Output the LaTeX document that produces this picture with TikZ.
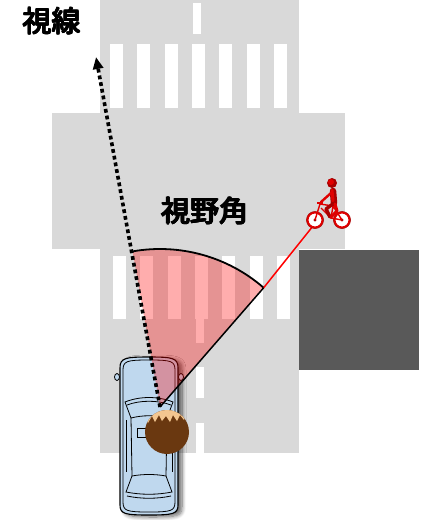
\documentclass[tikz,border=0pt]{standalone}
\usepackage{fontspec}
\newfontfamily\jp{Noto Sans CJK JP}
\usetikzlibrary{arrows.meta,calc,shadows.blur}
\definecolor{road}{HTML}{D9D9D9}
\definecolor{block}{HTML}{595959}
\definecolor{carblue}{HTML}{BFD8EE}
\definecolor{hair}{HTML}{6A3810}
\definecolor{skin}{HTML}{F3C690}
\definecolor{bikered}{HTML}{E00000}
\definecolor{darkred}{HTML}{A80000}
\tikzset{
  stripe/.style={fill=white},
  label/.style={inner sep=0pt, font=\jp\fontsize{29}{29}\selectfont},
  carline/.style={draw=black, line width=0.8pt},
  wheel/.style={draw=bikered, line width=2pt, fill=white},
  sight/.style={line width=3.6pt, dash pattern=on 3.8pt off 3pt, -{Triangle[length=12pt,width=10pt]}},
}
% heavy label: the text set several times with small offsets
\newcommand\heavylabel[3]{%
  \foreach \dx/\dy in {-0.55/0,0.55/0,0/-0.55,0/0.55,-0.4/-0.4,0.4/0.4,-0.4/0.4,0.4/-0.4}
    {\node[label] at ($(#2)+(\dx,\dy)$) {#3};}
  \node[label] (#1) at (#2) {#3};}
\begin{document}
\begin{tikzpicture}[x=1pt,y=-1pt]
\useasboundingbox (0,0) rectangle (437,520);
% road surface
\fill[road] (100,0) rectangle (299,114);
\fill[road] (52,113) rectangle (345,249);
\fill[road] (100,248) rectangle (299,453);
% building block
\fill[block] (299,250) rectangle (419,370);
% crosswalks
\foreach \i in {0,...,6} {
  \fill[stripe] ({110+27.3*\i},44) rectangle ++(13,64);
  \fill[stripe] ({113+27.3*\i},256) rectangle ++(13,63);
}
% centre line
\fill[stripe] (193,3) rectangle (201,34);
\fill[stripe] (196,319) rectangle (204,343);
\fill[stripe] (196,367) rectangle (204,398);
\fill[stripe] (196,423) rectangle (204,453);

% view apex and sector geometry
\coordinate (eye) at (160,407);
\coordinate (fovL) at ($(eye)+(-100:158)$);
\coordinate (fovR) at ($(eye)+(-49:158)$);

% car seen from above
\begin{scope}
  \path[fill=carblue, blur shadow={shadow xshift=4pt, shadow yshift=-2pt, shadow blur steps=8, shadow blur radius=4pt, shadow opacity=60}]
    (120,368) .. controls (120,358) and (125,357) .. (149,357) .. controls (173,357) and (178,358) .. (178,368)
    -- (178,505) .. controls (178,514) and (173,515) .. (149,515) .. controls (125,515) and (120,514) .. (120,505) -- cycle;
  \draw[carline, line width=1.1pt]
    (120,368) .. controls (120,358) and (125,357) .. (149,357) .. controls (173,357) and (178,358) .. (178,368)
    -- (178,505) .. controls (178,514) and (173,515) .. (149,515) .. controls (125,515) and (120,514) .. (120,505) -- cycle;
  \draw[carline]
    (123,370) .. controls (123,361) and (127,360) .. (149,360) .. controls (171,360) and (175,361) .. (175,370)
    -- (175,502) .. controls (175,511) and (171,512) .. (149,512) .. controls (127,512) and (123,511) .. (123,502) -- cycle;
  % mirrors
  \draw[carline, fill=carblue] (117,377) ellipse (2.5 and 3.5);
  \draw[carline, fill=carblue] (181,377) ellipse (2.5 and 3.5);
  % windscreen
  \draw[carline] (125,402) .. controls (140,396) and (158,396) .. (173,402)
    -- (167,418) .. controls (155,415) and (143,415) .. (131,418) -- cycle;
  \draw[carline] (127,405) .. controls (140,400) and (158,400) .. (171,405);
  % roof and side glass
  \draw[carline] (131,418) -- (132,476);
  \draw[carline] (167,418) -- (166,476);
  \draw[carline] (126,420) -- (126,472);
  \draw[carline] (172,420) -- (172,472);
  % rear window
  \draw[carline] (132,476) .. controls (143,474) and (155,474) .. (166,476)
    -- (172,492) .. controls (157,495) and (141,495) .. (126,492) -- cycle;
  \draw[carline] (127,496) .. controls (141,499) and (157,499) .. (171,496);
  % door handle
  \draw[carline, fill=carblue] (137,428) rectangle (146,437);
\end{scope}

% field of view
\fill[red, opacity=0.32] (eye) -- (fovL) arc[start angle=-100, end angle=-49, radius=158] -- cycle;
\draw[line width=1.8pt] (fovL) arc[start angle=-100, end angle=-49, radius=158];
\draw[red, line width=1.5pt] (fovR) -- (313,226);
\draw[line width=1.5pt] (eye) -- (fovR);

% line of sight
\coordinate (tip) at (96,57);
\draw[sight] (eye) -- (tip);

% driver's head
\begin{scope}
  \fill[hair] (167,432) circle (22);
  \clip (167,432) circle (22);
  \fill[skin] (140,400) -- (190,400) -- (190,416)
    -- (186,414) -- (184,420) -- (180,415) -- (177,421) -- (173,415) -- (170,422) -- (166,416)
    -- (162,421) -- (159,415) -- (155,422) -- (152,416) -- (148,423) -- (145,418) -- (140,424) -- cycle;
\end{scope}

% cyclist
\begin{scope}
  \draw[wheel] (315,220) circle (7.5);
  \draw[wheel] (342,220) circle (7.5);
  \draw[darkred, line width=0.5pt] (315,220) circle (8.6) (342,220) circle (8.6);
  \fill[darkred] (315,220) circle (1.6);
  \fill[darkred] (342,220) circle (1.6);
  \draw[bikered, line width=1.4pt, line join=round]
    (315,220) -- (320,204) -- (333,206) -- (331,218) -- (342,220) -- (333,206)
    (321,208) -- (331,218);
  \draw[bikered, line width=1.4pt] (317,203) -- (323,203);
  % rider
  \fill[darkred] (332,183) circle (5);
  \fill[bikered] (331,182) circle (3);
  \draw[darkred, line width=6.5pt, line cap=round] (333,191) -- (334,203);
  \draw[bikered, line width=3pt, line cap=round] (332,190) -- (333,201);
  \draw[bikered, line width=2.4pt, line cap=round] (331,193) -- (321,202);
  \draw[darkred, line width=3.4pt, line cap=round, line join=round] (334,203) -- (326,209) -- (330,217);
  \draw[bikered, line width=3pt, line cap=round, line join=round] (335,204) -- (337,211) -- (331,217);
\end{scope}

% labels
\heavylabel{sightlabel}{52,21}{視線}
\heavylabel{fovlabel}{205,211}{視野角}
\end{tikzpicture}
\end{document}
